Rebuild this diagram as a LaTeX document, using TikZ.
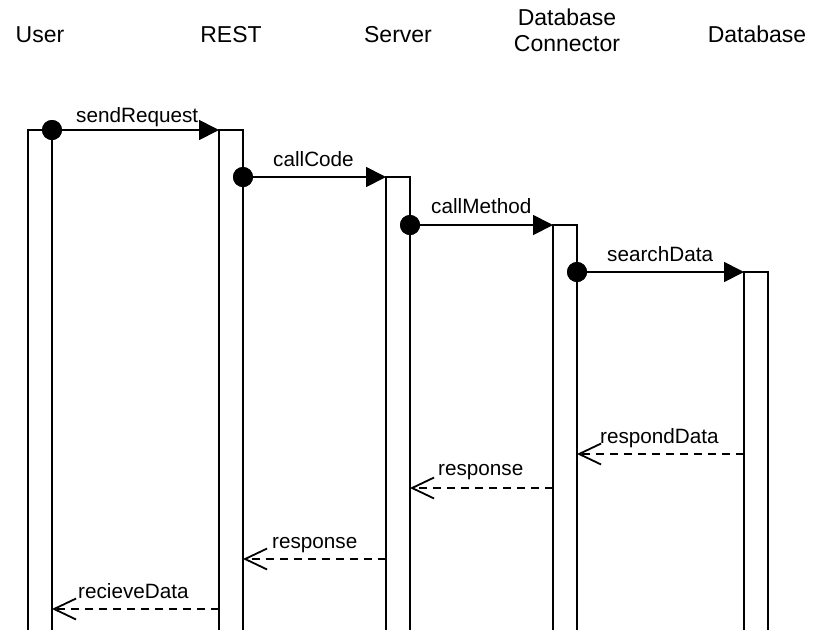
\documentclass[tikz,border=0pt]{standalone}
\usepackage{fontspec}
\setmainfont{Liberation Sans}
\usetikzlibrary{arrows.meta}
\begin{document}
\begin{tikzpicture}[x=1pt,y=-1pt,
  hdr/.style={inner sep=0pt,anchor=base,font=\fontsize{23}{26}\selectfont},
  lbl/.style={inner sep=0pt,anchor=base west,font=\fontsize{20.7}{24}\selectfont},
  bar/.style={draw=black,line width=1.8pt},
  dot/.style={circle,fill=black,inner sep=0pt,minimum size=20pt},
  call/.style={line width=1.8pt,-{Triangle[length=20pt,width=20pt]}},
  ret/.style={line width=1.6pt,dash pattern=on 8pt off 6pt,-{Straight Barb[length=22pt,width=21pt,line width=1.8pt]}}
]
\useasboundingbox (0,0) rectangle (813,630);

% headers
\node[hdr] (hUser) at (40,42) {User};
\node[hdr] (hRest) at (231,42) {REST};
\node[hdr] (hServer) at (398,42) {Server};
\node[hdr] (hDcA) at (567,25.7) {Database};
\node[hdr] (hDcB) at (567,51.7) {Connector};
\node[hdr] (hDb) at (757,42) {Database};

% activation bars
\draw[bar] (28,630) -- (28,130) -- (52,130) -- (52,630);
\draw[bar] (219,630) -- (219,130) -- (243,130) -- (243,630);
\draw[bar] (386,630) -- (386,177) -- (410,177) -- (410,630);
\draw[bar] (553,630) -- (553,225) -- (577,225) -- (577,630);
\draw[bar] (744,630) -- (744,272) -- (768,272) -- (768,630);

% connection points
\coordinate (tRest) at (219,130);
\coordinate (tServer) at (386,177);
\coordinate (tDc) at (553,225);
\coordinate (tDb) at (744,272);

\node[dot] (dUser) at (52,130) {};
\node[dot] (dRest) at (243,177) {};
\node[dot] (dServer) at (410,225) {};
\node[dot] (dDc) at (577,272) {};

% calls
\draw[call] (dUser.center) -- (tRest);
\draw[call] (dRest.center) -- (tServer);
\draw[call] (dServer.center) -- (tDc);
\draw[call] (dDc.center) -- (tDb);
\node[dot] at (dUser) {};
\node[dot] at (dRest) {};
\node[dot] at (dServer) {};
\node[dot] at (dDc) {};

\node[lbl] (lSend) at (76,122) {sendRequest};
\node[lbl] (lCode) at (273,166) {callCode};
\node[lbl] (lMethod) at (431,213) {callMethod};
\node[lbl] (lSearch) at (607,261) {searchData};

% returns
\coordinate (sDb) at (744,454);
\coordinate (eDc) at (577,454);
\coordinate (sDc) at (553,488);
\coordinate (eServer) at (410,488);
\coordinate (sServer) at (386,559);
\coordinate (eRest) at (243,559);
\coordinate (sRest) at (219,609);
\coordinate (eUser) at (52,609);

\draw[ret] (sDb) -- (eDc);
\draw[ret] (sDc) -- (eServer);
\draw[ret] (sServer) -- (eRest);
\draw[ret] (sRest) -- (eUser);

\node[lbl] (lRespond) at (600,443) {respondData};
\node[lbl] (lResp1) at (438,475) {response};
\node[lbl] (lResp2) at (272,548) {response};
\node[lbl] (lRecv) at (78,598) {recieveData};
\end{tikzpicture}
\end{document}
